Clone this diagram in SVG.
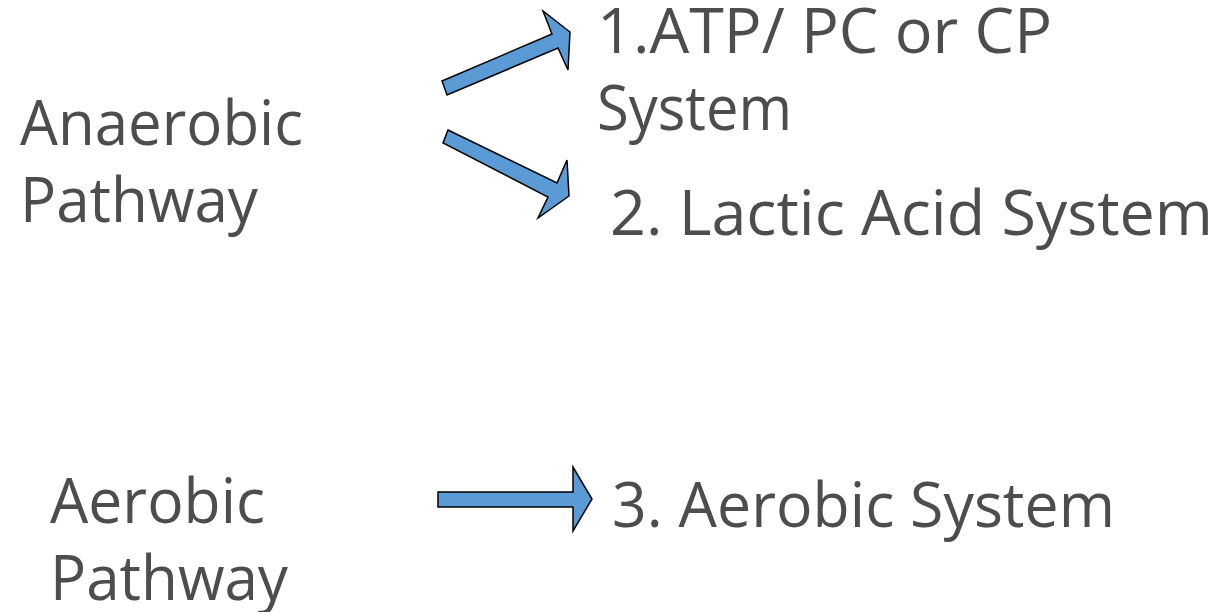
<svg xmlns="http://www.w3.org/2000/svg" width="1224" height="612" viewBox="0 0 1224 612">
<style>
.t{font-family:"Open Sans","DejaVu Sans",sans-serif;font-size:63px;fill:#4d4d4d}
.a{fill:#5b9bd5;stroke:#000;stroke-width:1.5;stroke-linejoin:miter}
</style>
<rect width="1224" height="612" fill="#fff"/>
<g id="anaerobic"><text class="t" x="20" y="145" textLength="283" lengthAdjust="spacingAndGlyphs">Anaerobic</text><text class="t" x="20" y="222" textLength="238" lengthAdjust="spacingAndGlyphs">Pathway</text></g>
<g id="atp"><text class="t" x="597" y="53" textLength="455" lengthAdjust="spacingAndGlyphs">1.ATP/ PC or CP</text><text class="t" x="597" y="130" textLength="195" lengthAdjust="spacingAndGlyphs">System</text></g>
<g id="lactic"><text class="t" x="610" y="235" textLength="603" lengthAdjust="spacingAndGlyphs">2. Lactic Acid System</text></g>
<g id="aerobic"><text class="t" x="50" y="523" textLength="215" lengthAdjust="spacingAndGlyphs">Aerobic</text><text class="t" x="50" y="600" textLength="238" lengthAdjust="spacingAndGlyphs">Pathway</text></g>
<g id="aerobicsys"><text class="t" x="612" y="527" textLength="503" lengthAdjust="spacingAndGlyphs">3. Aerobic System</text></g>
<g id="connectors">
<polygon class="a" points="442,81 552,34 543,11 570,32 568,70 558,48 447,95"/>
<polygon class="a" points="448,130 557,183 567,160 569,196 538,218 548,197 443,143"/>
<polygon class="a" points="438,492 573,492 573,467 592,499 573,531 573,507 438,507"/>
</g>
</svg>
